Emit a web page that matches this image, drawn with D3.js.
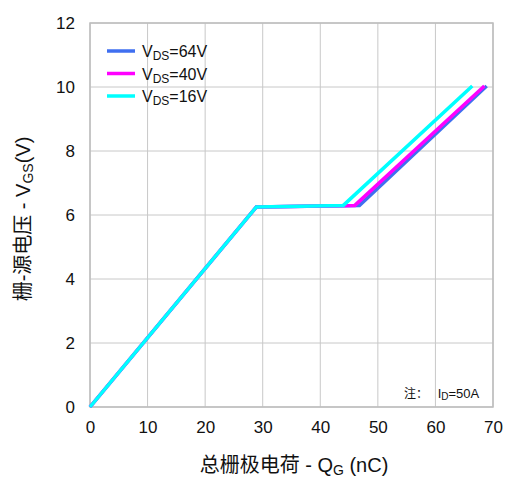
<!DOCTYPE html>
<html>
<head>
<meta charset="utf-8">
<script src="https://cdn.jsdelivr.net/npm/d3@7"></script>
<style>
  body { margin: 0; background: #fff; }
  text { font-family: Arial, "Liberation Sans", "Noto Sans CJK SC", sans-serif; fill: #111; }
</style>
</head>
<body>
<svg id="chart" width="508" height="478"></svg>
<script>
// Data: [Qg (nC), Vgs (V)]
const vds64 = [[0, 0], [28.9, 6.25], [46.8, 6.3], [68.9, 10.03]]
const vds40 = [[0, 0], [28.9, 6.25], [46.0, 6.3], [68.5, 10.03]]
const vds16 = [[0, 0], [28.9, 6.25], [44.0, 6.3], [66.4, 10.03]]
const seriesNames = ["64V", "40V", "16V"]
const seriesColours = ["#3f6ff0", "#ff00ff", "#00ffff"]
const xTicks = [0, 10, 20, 30, 40, 50, 60, 70]
const yTicks = [0, 2, 4, 6, 8, 10, 12]

const margin = { left: 90, right: 15, top: 23, bottom: 71 }
const svg = d3.select("#chart")
const W = 508, H = 478

const x = d3.scaleLinear().domain([0, 70]).range([margin.left, W - margin.right])
const y = d3.scaleLinear().domain([0, 12]).range([H - margin.bottom, margin.top])

// grid
svg.append("g")
    .selectAll("line.v")
    .data(xTicks)
    .join("line")
    .attr("x1", d => x(d)).attr("x2", d => x(d))
    .attr("y1", y(0)).attr("y2", y(12))
    .attr("stroke", "#c8c8c8").attr("stroke-width", 1)
svg.append("g")
    .selectAll("line.h")
    .data(yTicks)
    .join("line")
    .attr("x1", x(0)).attr("x2", x(70))
    .attr("y1", d => y(d)).attr("y2", d => y(d))
    .attr("stroke", "#c8c8c8").attr("stroke-width", 1)

// frame
svg.append("rect")
    .attr("x", x(0)).attr("y", y(12))
    .attr("width", x(70) - x(0)).attr("height", y(0) - y(12))
    .attr("fill", "none").attr("stroke", "#bdbdbd").attr("stroke-width", 1.5)

// axes (labels only)
const xAxis = svg.append("g")
    .attr("transform", "translate(0," + y(0) + ")")
    .call(d3.axisBottom(x).tickValues(xTicks).tickSize(0).tickPadding(14))
xAxis.select(".domain").remove()
xAxis.selectAll("text").style("font-size", "17px").attr("fill", "#111")

const yAxis = svg.append("g")
    .attr("transform", "translate(" + x(0) + ",0)")
    .call(d3.axisLeft(y).tickValues(yTicks).tickSize(0).tickPadding(15))
yAxis.select(".domain").remove()
yAxis.selectAll("text").style("font-size", "17px").attr("fill", "#111")

// lines
const line = d3.line().x(d => x(d[0])).y(d => y(d[1]))
const allSeries = [vds64, vds40, vds16]
allSeries.forEach((s, i) => {
    svg.append("path")
        .datum(s)
        .attr("d", line)
        .attr("fill", "none")
        .attr("stroke", seriesColours[i])
        .attr("stroke-width", 3.5)
        .attr("stroke-linejoin", "miter")
})

// legend
const legend = svg.append("g")
seriesNames.forEach((name, i) => {
    const ly = 51 + i * 22.5
    legend.append("line")
        .attr("x1", 107).attr("x2", 135)
        .attr("y1", ly).attr("y2", ly)
        .attr("stroke", seriesColours[i]).attr("stroke-width", 3.5)
    const t = legend.append("text")
        .attr("x", 142).attr("y", ly + 6)
        .style("font-size", "16px")
    t.append("tspan").text("V")
    t.append("tspan").text("DS").style("font-size", "12px").attr("dy", 3)
    t.append("tspan").text("=" + name).attr("dy", -3)
})

// note
const note = svg.append("text")
    .attr("x", 404).attr("y", 398)
    .style("font-size", "13px")
note.append("tspan").text("注：").style("font-size", "12px")
note.append("tspan").text(" I").attr("dx", 6)
note.append("tspan").text("D").style("font-size", "10px").attr("dy", 2)
note.append("tspan").text("=50A").attr("dy", -2)

// axis titles
const xt = svg.append("text")
    .attr("x", 294).attr("y", 472)
    .attr("text-anchor", "middle")
    .style("font-size", "20px")
xt.append("tspan").text("总栅极电荷 - Q")
xt.append("tspan").text("G").style("font-size", "14px").attr("dy", 3)
xt.append("tspan").text(" (nC)").attr("dy", -3)

const yt = svg.append("text")
    .attr("transform", "translate(30," + 219 + ") rotate(-90)")
    .attr("text-anchor", "middle")
    .style("font-size", "20px")
yt.append("tspan").text("栅-源电压 - V")
yt.append("tspan").text("GS").style("font-size", "14px").attr("dy", 3)
yt.append("tspan").text("(V)").attr("dy", -3)
</script>
</body>
</html>
